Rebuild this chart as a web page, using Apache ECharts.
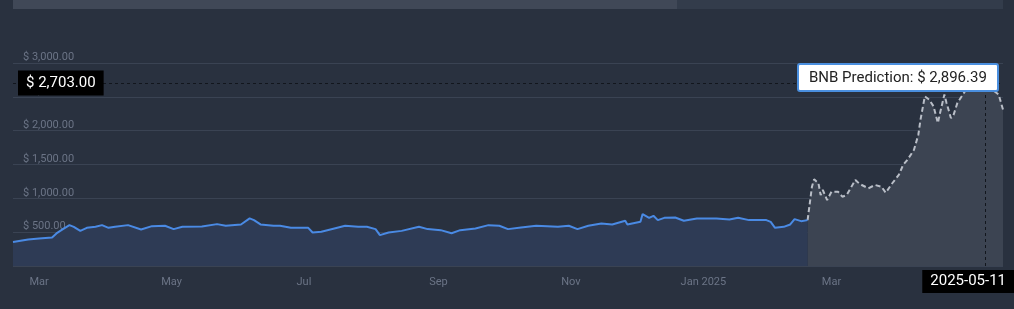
<!DOCTYPE html>
<html><head><meta charset="utf-8">
<script src="https://cdn.jsdelivr.net/npm/echarts@6/dist/echarts.min.js"></script>
<style>html,body{margin:0;padding:0;background:#29313f;overflow:hidden}#c{width:1014px;height:309px}</style>
</head><body><div id="c"></div>
<script>
const historyDates = ['2024-02-18','2024-02-25','2024-03-01','2024-03-07','2024-03-09','2024-03-12','2024-03-15','2024-03-17','2024-03-20','2024-03-23','2024-03-27','2024-03-30','2024-04-02','2024-04-05','2024-04-11','2024-04-17','2024-04-22','2024-04-28','2024-05-02','2024-05-06','2024-05-15','2024-05-22','2024-05-26','2024-06-02','2024-06-06','2024-06-08','2024-06-11','2024-06-17','2024-06-20','2024-06-25','2024-07-03','2024-07-05','2024-07-09','2024-07-15','2024-07-20','2024-07-26','2024-07-30','2024-08-03','2024-08-05','2024-08-09','2024-08-15','2024-08-23','2024-08-27','2024-09-02','2024-09-07','2024-09-11','2024-09-18','2024-09-24','2024-09-29','2024-10-03','2024-10-09','2024-10-16','2024-10-26','2024-10-31','2024-11-04','2024-11-09','2024-11-15','2024-11-20','2024-11-26','2024-11-27','2024-12-03','2024-12-04','2024-12-07','2024-12-09','2024-12-11','2024-12-14','2024-12-19','2024-12-23','2024-12-29','2025-01-07','2025-01-13','2025-01-17','2025-01-22','2025-01-30','2025-02-01','2025-02-03','2025-02-07','2025-02-10','2025-02-12','2025-02-15','2025-02-18'];
const historyPrices = [356,391,406,421,481,545,604,579,519,564,579,604,564,579,604,540,589,594,545,579,584,619,594,614,703,678,614,594,594,564,564,495,505,555,594,579,579,545,456,495,519,579,545,530,485,530,555,604,594,545,569,594,579,594,545,594,629,614,668,614,653,767,712,742,678,712,717,668,703,703,688,712,678,678,653,564,579,614,693,663,678];
const predictionDates = ['2025-02-18','2025-02-20','2025-02-21','2025-02-23','2025-02-24','2025-02-25','2025-02-27','2025-03-01','2025-03-04','2025-03-06','2025-03-08','2025-03-12','2025-03-14','2025-03-18','2025-03-21','2025-03-24','2025-03-26','2025-03-29','2025-04-01','2025-04-03','2025-04-05','2025-04-08','2025-04-10','2025-04-11','2025-04-13','2025-04-15','2025-04-17','2025-04-19','2025-04-20','2025-04-22','2025-04-23','2025-04-25','2025-04-26','2025-04-28','2025-04-30','2025-05-02','2025-05-05','2025-05-08','2025-05-11','2025-05-12','2025-05-13','2025-05-15','2025-05-17','2025-05-19'];
const predictionPrices = [678,1172,1282,1223,1049,1123,975,1098,1098,1024,1049,1272,1212,1148,1198,1172,1083,1223,1346,1494,1569,1717,1940,2162,2508,2459,2360,2113,2261,2533,2410,2187,2211,2410,2508,2607,2750,2820,2896.39,2864,2756,2582,2533,2311];
const monthTicks = ['2024-03-01','2024-05-01','2024-07-01','2024-09-01','2024-11-01','2025-01-01','2025-03-01'];
const monthNames = ['Jan','Feb','Mar','Apr','May','Jun','Jul','Aug','Sep','Oct','Nov','Dec'];
const xStart = '2024-02-18', xEnd = '2025-05-19';
const hoverDate = '2025-05-11';
const hoverPrice = 2703;

const T = s => echarts.number.parseDate(s).getTime();
const money = v => '$ ' + Number(v).toLocaleString('en-US',{minimumFractionDigits:2,maximumFractionDigits:2});
const chart = echarts.init(document.getElementById('c'), null, {renderer:'canvas'});
chart.setOption({
  animation:false,
  backgroundColor:'#29313f',
  textStyle:{fontFamily:'Roboto'},
  graphic:[
    {type:'rect', left:13, top:0, shape:{width:990, height:9}, style:{fill:'#333c4b'}, silent:true},
    {type:'rect', left:13, top:0, shape:{width:664, height:9}, style:{fill:'#404857'}, silent:true}
  ],
  grid:{left:13, right:11, top:63, bottom:43},
  tooltip:{
    trigger:'axis',
    transitionDuration:0,
    showDelay:0,
    alwaysShowContent:true,
    axisPointer:{type:'cross', lineStyle:{color:'#12161d', type:[3,3], width:1}, crossStyle:{color:'#12161d', type:[3,3], width:1}},
    backgroundColor:'#ffffff',
    borderColor:'#4a8fdf',
    borderWidth:2,
    borderRadius:3,
    padding:[3,10],
    textStyle:{color:'#222', fontSize:15, fontFamily:'Roboto'},
    extraCssText:'box-shadow:none;line-height:19px;',
    position:function(point, params, dom, rect, size){ return [point[0]-size.contentSize[0]+13, point[1]-20]; },
    formatter:function(params){
      const p = params.find(x=>x.seriesName==='BNB Prediction') || params[0];
      return p.seriesName + ': ' + money(p.value[1]);
    }
  },
  xAxis:{
    type:'value',
    min:T(xStart), max:T(xEnd),
    axisLine:{show:false}, axisTick:{show:false}, splitLine:{show:false},
    axisLabel:{
      customValues: monthTicks.map(T),
      color:'#6b7486', fontSize:11, margin:11,
      formatter:function(v){ const d=new Date(v); const m=d.getMonth(); return m===0 ? monthNames[m]+' '+d.getFullYear() : monthNames[m]; }
    },
    axisPointer:{snap:true, label:{show:true, backgroundColor:'#000', color:'#fff', fontSize:15, padding:[4,8], borderRadius:0, margin:4,
      formatter:function(p){ return echarts.time.format(p.value,'{yyyy}-{MM}-{dd}',false); }}}
  },
  yAxis:{
    type:'value', min:0, max:3000, interval:500,
    axisLine:{show:false}, axisTick:{show:false},
    splitLine:{lineStyle:{color:'#3a4353', width:1}},
    axisLabel:{inside:true, margin:10, color:'#6b7486', fontSize:11, verticalAlign:'bottom', padding:[0,0,0,0], formatter:money},
    axisPointer:{snap:false, label:{show:true, backgroundColor:'#000', color:'#fff', fontSize:15, padding:[5,8], borderRadius:0, margin:5,
      formatter:function(p){ return money(p.value); }}}
  },
  series:[
    {name:'BNB Prediction', type:'line', showSymbol:false, symbol:'none',
     data: predictionDates.map((d,i)=>[T(d), predictionPrices[i]]),
     lineStyle:{color:'#a9adb5', width:2, type:[5,3]},
     itemStyle:{color:'#a9adb5'},
     areaStyle:{color:'#373e4b', opacity:1}, z:2},
    {name:'BNB', type:'line', showSymbol:false, symbol:'none',
     data: historyDates.map((d,i)=>[T(d), historyPrices[i]]),
     lineStyle:{color:'#4a8ae4', width:2},
     itemStyle:{color:'#4a8ae4'},
     areaStyle:{color:'#2e3b55', opacity:1}, z:3}
  ]
});
const pt = chart.convertToPixel({gridIndex:0}, [T(hoverDate), hoverPrice]);
chart.dispatchAction({type:'showTip', x:pt[0], y:pt[1]});
</script></body></html>
